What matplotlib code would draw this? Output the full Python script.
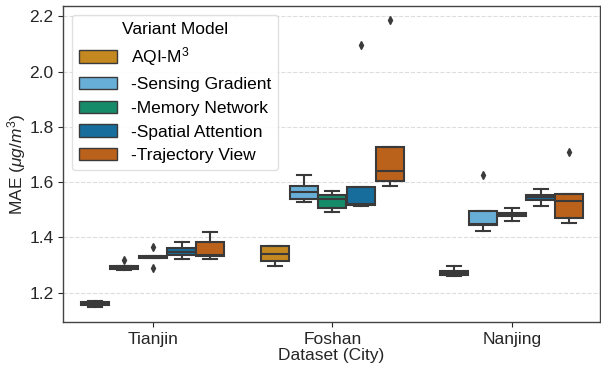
import colorsys
import matplotlib
matplotlib.use("Agg")
import matplotlib.pyplot as plt
import matplotlib.colors as mcolors
from matplotlib.patches import Patch

plt.rcParams["font.family"] = ["Liberation Sans", "DejaVu Sans"]
plt.rcParams["mathtext.fontset"] = "custom"
plt.rcParams["mathtext.rm"] = "Liberation Sans"
plt.rcParams["mathtext.it"] = "Liberation Sans:italic"

cities = ["Tianjin", "Foshan", "Nanjing"]
models = ["AQI-M$^3$", "-Sensing Gradient", "-Memory Network",
          "-Spatial Attention", "-Trajectory View"]
base_colors = ["#DE8F05", "#56B4E9", "#029E73", "#0173B2", "#D55E00"]

# MAE of 5 runs per city, one list per variant
aqi_m3 = [[1.148, 1.156, 1.160, 1.165, 1.170],
          [1.295, 1.315, 1.342, 1.368, 1.370],
          [1.261, 1.265, 1.271, 1.280, 1.298]]
sensing_gradient = [[1.283, 1.285, 1.290, 1.295, 1.317],
                    [1.527, 1.540, 1.565, 1.585, 1.627],
                    [1.424, 1.445, 1.449, 1.495, 1.626]]
memory_network = [[1.290, 1.327, 1.330, 1.333, 1.365],
                  [1.494, 1.507, 1.538, 1.552, 1.570],
                  [1.461, 1.478, 1.484, 1.490, 1.507]]
spatial_attention = [[1.323, 1.335, 1.349, 1.362, 1.382],
                     [1.515, 1.518, 1.522, 1.583, 2.098],
                     [1.514, 1.537, 1.546, 1.555, 1.574]]
trajectory_view = [[1.322, 1.333, 1.337, 1.383, 1.420],
                   [1.586, 1.604, 1.642, 1.726, 2.186],
                   [1.452, 1.472, 1.532, 1.558, 1.710]]

series = [aqi_m3, sensing_gradient, memory_network, spatial_attention, trajectory_view]


def desaturate(c, prop=0.75):
    r, g, b = mcolors.to_rgb(c)
    h, l, s = colorsys.rgb_to_hls(r, g, b)
    return colorsys.hls_to_rgb(h, l, s * prop)


colors = [desaturate(c) for c in base_colors]
gray = "#3a3a3a"
fs = 12.5

fig = plt.figure(figsize=(6.01, 3.71), dpi=100)
ax = fig.add_axes([0.105, 0.132, 0.893, 0.852])

n = len(models)
step = 0.8 / n
for i, (vals, col) in enumerate(zip(series, colors)):
    offset = -0.4 + step / 2 + i * step
    pos = [k + offset for k in range(len(cities))]
    ax.boxplot(vals, positions=pos, widths=step * 0.98, patch_artist=True,
               manage_ticks=False, zorder=2,
               boxprops=dict(facecolor=col, edgecolor=gray, linewidth=1.5),
               medianprops=dict(color=gray, linewidth=1.5),
               whiskerprops=dict(color=gray, linewidth=1.5),
               capprops=dict(color=gray, linewidth=1.5),
               flierprops=dict(marker="d", markerfacecolor=gray,
                               markeredgecolor=gray, markersize=4))

ax.set_xticks(range(len(cities)))
ax.set_xticklabels(cities)
ax.set_xlim(-0.5, 2.49)
ax.set_ylim(1.094, 2.238)
ax.set_yticks([1.2, 1.4, 1.6, 1.8, 2.0, 2.2])
ax.yaxis.grid(True, linestyle="--", color="#dddddd", linewidth=0.8, zorder=0)
ax.set_axisbelow(True)
ax.tick_params(labelsize=fs, colors="#262626", length=3.5)
for sp in ax.spines.values():
    sp.set_color("#444444")
    sp.set_linewidth(1.0)

ax.set_xlabel("Dataset (City)", fontsize=fs, color="#262626", labelpad=1)
ax.set_ylabel("MAE ($\\mu g/m^3$)", fontsize=fs, color="#262626", labelpad=1)

handles = [Patch(facecolor=c, edgecolor=gray, linewidth=1.0) for c in colors]
ax.legend(handles, models, title="Variant Model", loc="upper left",
          fontsize=fs, title_fontsize=fs, handlelength=2.2,
          handletextpad=0.8, labelspacing=0.5, framealpha=0.9,
          edgecolor="#dddddd", borderaxespad=0.5)

fig.savefig("out.png", dpi=100)
